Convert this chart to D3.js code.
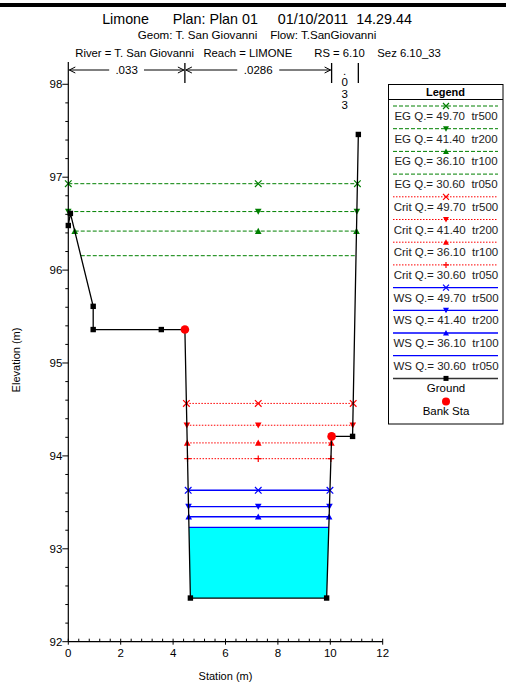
<!DOCTYPE html>
<html><head><meta charset="utf-8">
<script src="https://cdn.jsdelivr.net/npm/d3@7"></script>
<style>
body{margin:0;background:#fff;}
svg text{font-family:"Liberation Sans",Arial,sans-serif;white-space:pre;}
</style></head>
<body><svg id="c" width="506" height="684"></svg>
<script>
// ---- data ----
const groundSta  = [0, 0.08, 0.95, 0.95, 3.55, 4.45, 4.66, 9.86, 10.05, 10.85, 11.07];
const groundElev = [96.48, 96.61, 95.61, 95.36, 95.36, 95.36, 92.47, 92.47, 94.21, 94.21, 97.46];
const bankSta  = [4.45, 10.05];
const bankElev = [95.36, 94.21];
const profiles = ["tr500", "tr200", "tr100", "tr050"];
const flows    = ["49.70", "41.40", "36.10", "30.60"];
const wsElev   = [93.63, 93.455, 93.345, 93.23];
const critElev = [94.565, 94.33, 94.14, 93.97];
const egElev   = [96.93, 96.63, 96.42, 96.155];
const nBreaks  = [0, 4.45, 10.05, 11.07];
const nValues  = [".033", ".0286", ".033"];
const xTicks = [0, 2, 4, 6, 8, 10, 12];
const yTicks = [92, 93, 94, 95, 96, 97, 98];

const svg = d3.select("#c");
const x = d3.scaleLinear().domain([0, 12]).range([68.3, 382.7]);
const y = d3.scaleLinear().domain([92, 98.24]).range([641.7, 62]);
const ground = groundSta.map((s, i) => [s, groundElev[i]]);

// top border
svg.append("rect").attr("x", 0).attr("y", 3).attr("width", 506).attr("height", 4).attr("fill", "#000");

// titles
const t = svg.append("g").attr("text-anchor", "middle").attr("fill", "#000");
t.append("text").attr("x", 257).attr("y", 24).attr("font-size", 14.3).text("Limone      Plan: Plan 01     01/10/2011  14.29.44");
t.append("text").attr("x", 257).attr("y", 39).attr("font-size", 11.6).text("Geom: T. San Giovanni    Flow: T.SanGiovanni");
t.append("text").attr("x", 258).attr("y", 57).attr("font-size", 11.3).text("River = T. San Giovanni   Reach = LIMONE       RS = 6.10    Sez 6.10_33");

// intersection of water level with ground
function extent(h) {
  let iMin = d3.minIndex(groundElev);
  let left = groundSta[0], right = groundSta[groundSta.length - 1];
  for (let i = iMin; i > 0; i--) {
    if (groundElev[i - 1] >= h) {
      const a = ground[i - 1], b = ground[i];
      left = a[0] + (b[0] - a[0]) * (a[1] - h) / (a[1] - b[1]);
      break;
    }
  }
  for (let i = iMin; i < ground.length - 1; i++) {
    if (groundElev[i + 1] >= h) {
      const a = ground[i], b = ground[i + 1];
      right = a[0] + (b[0] - a[0]) * (h - a[1]) / (b[1] - a[1]);
      break;
    }
  }
  return [left, right];
}
const mid = (bankSta[0] + bankSta[1]) / 2;

// water fill for lowest WS
{
  const h = wsElev[3];
  const [l, r] = extent(h);
  const pts = [[l, h]];
  ground.forEach(p => { if (p[0] > l && p[0] < r && p[1] < h) pts.push(p); });
  pts.push([r, h]);
  svg.append("path").attr("d", d3.line().x(d => x(d[0])).y(d => y(d[1]))(pts) + "Z")
    .attr("fill", "#00ffff").attr("stroke", "none");
}

// markers
function marker(g, type, cx, cy, color, s) {
  s = s || 3;
  if (type === "x") {
    g.append("path").attr("d", `M${cx-s},${cy-s}L${cx+s},${cy+s}M${cx-s},${cy+s}L${cx+s},${cy-s}`).attr("stroke", color).attr("stroke-width", 1.2).attr("fill", "none");
  } else if (type === "down") {
    g.append("path").attr("d", `M${cx-s},${cy-s+0.5}L${cx+s},${cy-s+0.5}L${cx},${cy+s}Z`).attr("fill", color);
  } else if (type === "up") {
    g.append("path").attr("d", `M${cx-s},${cy+s-0.5}L${cx+s},${cy+s-0.5}L${cx},${cy-s}Z`).attr("fill", color);
  } else if (type === "plus") {
    g.append("path").attr("d", `M${cx-s},${cy}L${cx+s},${cy}M${cx},${cy-s}L${cx},${cy+s}`).attr("stroke", color).attr("stroke-width", 1.2).attr("fill", "none");
  }
}
const egMarks = ["x", "down", "up", null];
const critMarks = ["x", "down", "up", "plus"];
const wsMarks = ["x", "down", "up", null];
const styles = {
  eg: {color: "#008000", dash: "4,2", w: 1},
  crit: {color: "#ff0000", dash: "1.5,1.5", w: 1},
  ws: {color: "#0000ff", dash: null, w: 1.3}
};

function drawLevels(levels, marks, st) {
  const g = svg.append("g");
  levels.forEach((h, i) => {
    const [l, r] = extent(h);
    const line = g.append("line").attr("x1", x(l)).attr("x2", x(r)).attr("y1", y(h)).attr("y2", y(h))
      .attr("stroke", st.color).attr("stroke-width", st.w);
    if (st.dash) line.attr("stroke-dasharray", st.dash);
    if (marks[i]) [l, mid, r].forEach(s => marker(g, marks[i], x(s), y(h), st.color, 3.3));
  });
}
drawLevels(egElev, egMarks, styles.eg);
drawLevels(critElev, critMarks, styles.crit);
drawLevels(wsElev, wsMarks, styles.ws);

// ground
svg.append("path").attr("d", d3.line().x(d => x(d[0])).y(d => y(d[1]))(ground))
  .attr("fill", "none").attr("stroke", "#000").attr("stroke-width", 1.3);
svg.append("g").selectAll("rect").data(ground).join("rect")
  .attr("x", d => x(d[0]) - 2.7).attr("y", d => y(d[1]) - 2.7).attr("width", 5.4).attr("height", 5.4).attr("fill", "#000");
svg.append("g").selectAll("circle").data(bankSta).join("circle")
  .attr("cx", d => x(d)).attr("cy", (d, i) => y(bankElev[i])).attr("r", 4.3).attr("fill", "#ff0000");

// axes
const ax = svg.append("g").attr("stroke", "#000").attr("fill", "none");
ax.append("line").attr("x1", x(0)).attr("x2", x(0)).attr("y1", y.range()[1]).attr("y2", y(92)).attr("stroke-width", 1.2);
ax.append("line").attr("x1", x(0)).attr("x2", x(12)).attr("y1", y(92)).attr("y2", y(92)).attr("stroke-width", 1.2);
d3.range(92, 98.01, 0.2).forEach(v => {
  const major = Math.abs(v - Math.round(v)) < 1e-6;
  ax.append("line").attr("x1", x(0) - (major ? 6 : 3)).attr("x2", x(0)).attr("y1", y(v)).attr("y2", y(v));
});
d3.range(0, 12.01, 0.4).forEach(v => {
  const major = Math.abs(v / 2 - Math.round(v / 2)) < 1e-6;
  ax.append("line").attr("x1", x(v)).attr("x2", x(v)).attr("y1", y(92) - 3).attr("y2", y(92) + (major ? 3 : 0));
});
const lab = svg.append("g").attr("font-size", 11.5).attr("fill", "#000");
yTicks.forEach(v => lab.append("text").attr("x", x(0) - 6).attr("y", y(v) + 4).attr("text-anchor", "end").text(v));
xTicks.forEach(v => lab.append("text").attr("x", x(v)).attr("y", y(92) + 15).attr("text-anchor", "middle").text(v));
svg.append("text").attr("x", 225.5).attr("y", 680).attr("text-anchor", "middle").attr("font-size", 11).text("Station (m)");
svg.append("text").attr("transform", "translate(20,360) rotate(-90)").attr("text-anchor", "middle").attr("font-size", 11).text("Elevation (m)");

// Manning's n
const ng = svg.append("g");
const ny = 70;
nBreaks.slice(1).forEach(b => ng.append("line").attr("x1", x(b)).attr("x2", x(b)).attr("y1", 63).attr("y2", 83).attr("stroke", "#000").attr("stroke-width", 1.3));
nValues.forEach((v, i) => {
  const a = x(nBreaks[i]) + 1, b = x(nBreaks[i + 1]) - 1;
  if (b - a > 60) {
    const c = (a + b) / 2, half = v.length * 3.6 + 3;
    ng.append("path").attr("d", `M${a},${ny}L${c-half},${ny}M${c+half},${ny}L${b},${ny}M${a+6},${ny-3}L${a},${ny}L${a+6},${ny+3}M${b-6},${ny-3}L${b},${ny}L${b-6},${ny+3}`)
      .attr("stroke", "#000").attr("fill", "none").attr("stroke-width", 1);
    ng.append("text").attr("x", c).attr("y", ny + 4).attr("text-anchor", "middle").attr("font-size", 11.5).text(v);
  } else {
    const c = x(nBreaks[i]) + 13;
    v.split("").forEach((ch, k) => ng.append("text").attr("x", c).attr("y", 75 + k * 11.3).attr("text-anchor", "middle").attr("font-size", 11.5).text(ch));
  }
});

// legend
const lg = svg.append("g");
lg.append("rect").attr("x", 388.5).attr("y", 84.5).attr("width", 114.5).attr("height", 339.5).attr("fill", "#fff").attr("stroke", "#000").attr("stroke-width", 1);
lg.append("line").attr("x1", 388.5).attr("x2", 503).attr("y1", 99.5).attr("y2", 99.5).attr("stroke", "#000");
lg.append("text").attr("x", 445.5).attr("y", 96).attr("text-anchor", "middle").attr("font-size", 11).attr("font-weight", "bold").text("Legend");
const entries = [];
profiles.forEach((p, i) => entries.push({st: styles.eg, m: egMarks[i], label: `EG Q.= ${flows[i]}  ${p}`}));
profiles.forEach((p, i) => entries.push({st: styles.crit, m: critMarks[i], label: `Crit Q.= ${flows[i]}  ${p}`}));
profiles.forEach((p, i) => entries.push({st: styles.ws, m: wsMarks[i], label: `WS Q.= ${flows[i]}  ${p}`}));
entries.forEach((e, i) => {
  const ly = 106 + i * 22.7;
  const ln = lg.append("line").attr("x1", 393).attr("x2", 498).attr("y1", ly).attr("y2", ly).attr("stroke", e.st.color).attr("stroke-width", e.st.w);
  if (e.st.dash) ln.attr("stroke-dasharray", e.st.dash);
  if (e.m) marker(lg, e.m, 446, ly, e.st.color, 3);
  lg.append("text").attr("x", 446).attr("y", ly + 14).attr("text-anchor", "middle").attr("font-size", 11.5).attr("fill", "#222").text(e.label);
});
{
  const ly = 106 + 12 * 22.7;
  lg.append("line").attr("x1", 393).attr("x2", 498).attr("y1", ly).attr("y2", ly).attr("stroke", "#333").attr("stroke-width", 1.5);
  lg.append("rect").attr("x", 443.5).attr("y", ly - 2.5).attr("width", 5).attr("height", 5).attr("fill", "#000");
  lg.append("text").attr("x", 446).attr("y", ly + 14).attr("text-anchor", "middle").attr("font-size", 11.5).text("Ground");
  lg.append("circle").attr("cx", 446).attr("cy", ly + 23).attr("r", 4).attr("fill", "#ff0000");
  lg.append("text").attr("x", 446).attr("y", ly + 37).attr("text-anchor", "middle").attr("font-size", 11.5).text("Bank Sta");
}
</script></body></html>
